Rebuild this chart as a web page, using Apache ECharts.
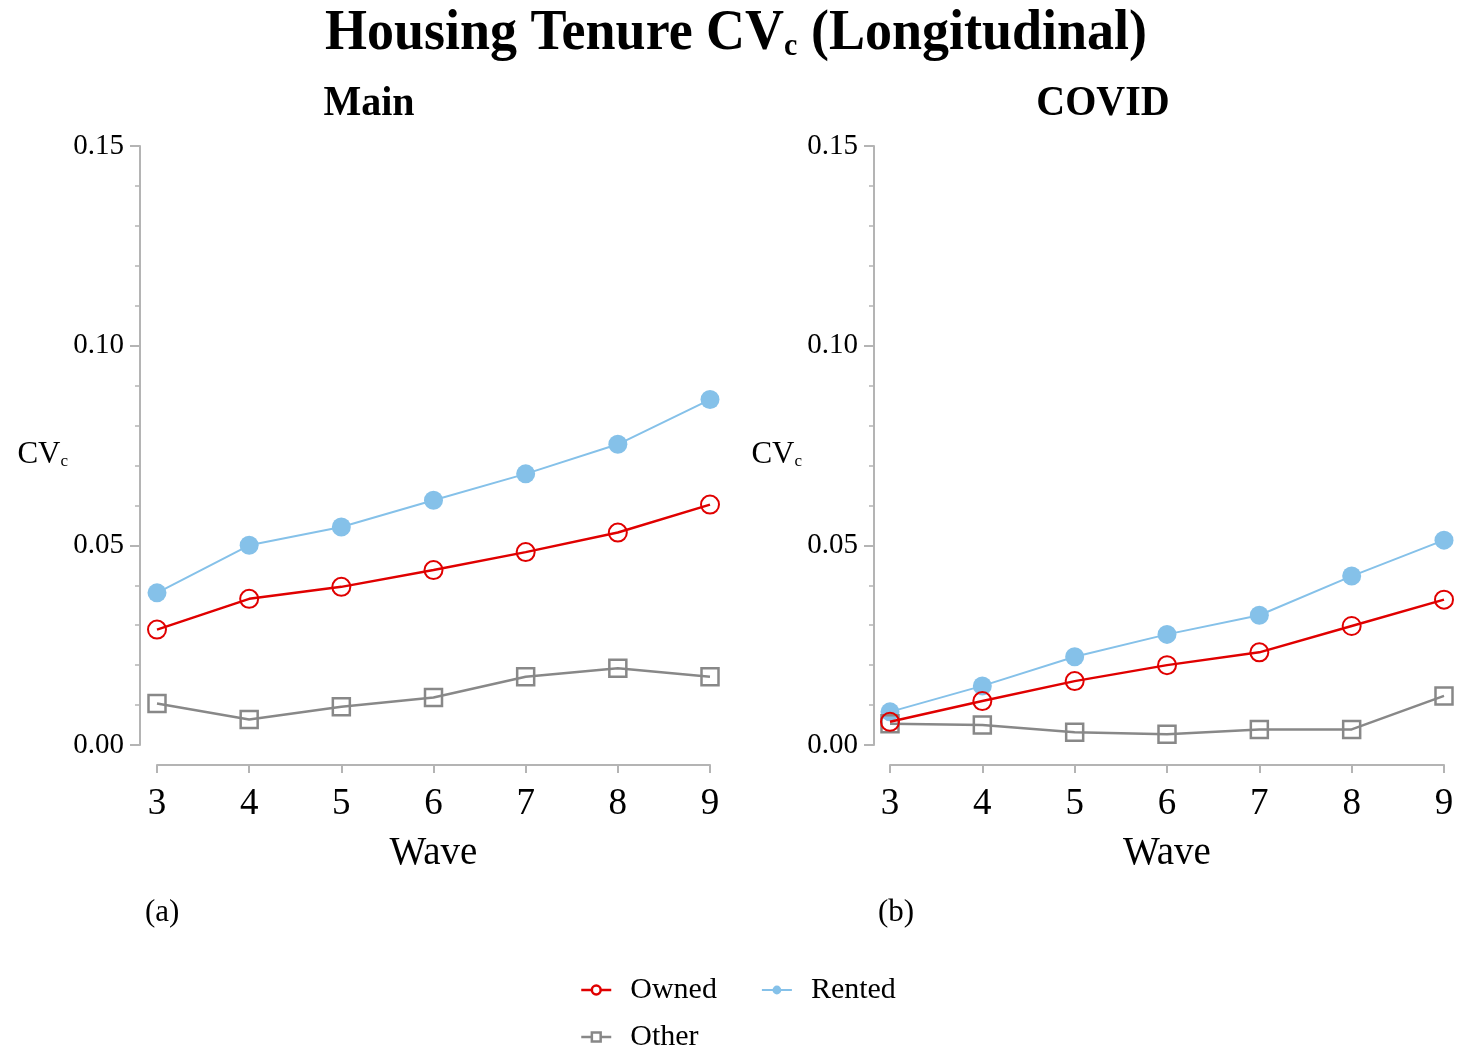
<!DOCTYPE html>
<html>
<head>
<meta charset="utf-8">
<title>Housing Tenure CVc (Longitudinal)</title>
<script src="https://cdn.jsdelivr.net/npm/echarts@6/dist/echarts.min.js"></script>
<style>
  html, body { margin: 0; padding: 0; background: #ffffff; }
  #chart { width: 1460px; height: 1051px; }
</style>
</head>
<body>
<div id="chart"></div>
<script>
// Survey waves on the x axis
const waves = [3, 4, 5, 6, 7, 8, 9];

// Coefficient of variation (CVc) by housing tenure, Main sample
const mainOwned  = [0.0289, 0.0366, 0.0396, 0.0438, 0.0483, 0.0532, 0.0602];
const mainRented = [0.0381, 0.0500, 0.0546, 0.0613, 0.0679, 0.0753, 0.0865];
const mainOther  = [0.0104, 0.0064, 0.0096, 0.0119, 0.0171, 0.0192, 0.0171];

// Coefficient of variation (CVc) by housing tenure, COVID sample
const covidOwned  = [0.0058, 0.0110, 0.0160, 0.0200, 0.0232, 0.0298, 0.0364];
const covidRented = [0.0083, 0.0148, 0.0221, 0.0277, 0.0325, 0.0423, 0.0513];
const covidOther  = [0.0053, 0.0050, 0.0032, 0.0027, 0.0039, 0.0039, 0.0123];

const yTicks = [0, 0.05, 0.10, 0.15];

const SERIF = "'Liberation Serif', 'Times New Roman', serif";
const RED = '#e00000';
const BLUE = '#85c1e9';
const GREY = '#888888';
const AXIS = '#b4b4b4';

const pair = (vals) => waves.map((w, i) => [w, vals[i]]);

function yAxisFor(gridIndex, offset) {
  return {
    type: 'value', gridIndex,
    min: yTicks[0], max: yTicks[yTicks.length - 1], interval: 0.05,
    offset,
    name: 'CV{sub|c}',
    nameLocation: 'middle', nameRotate: 0, nameGap: 72,
    nameTextStyle: {
      fontFamily: SERIF, fontSize: 31, color: '#000', padding: [18, 0, 0, 0],
      rich: { sub: { fontFamily: SERIF, fontSize: 17, color: '#000', verticalAlign: 'bottom', lineHeight: 17 } }
    },
    axisLine: { show: true, lineStyle: { color: AXIS, width: 2 } },
    axisTick: { show: true, length: 10, lineStyle: { color: AXIS, width: 2 } },
    minorTick: { show: true, splitNumber: 5, length: 5, lineStyle: { color: AXIS, width: 1.5 } },
    splitLine: { show: false },
    minorSplitLine: { show: false },
    axisLabel: {
      margin: 16, fontFamily: SERIF, fontSize: 29, color: '#000', padding: [8, 0, 0, 0],
      formatter: (v) => v.toFixed(2)
    }
  };
}

function xAxisFor(gridIndex) {
  return {
    type: 'value', gridIndex,
    min: 3, max: 9, interval: 1,
    offset: 20,
    name: 'Wave', nameLocation: 'middle', nameGap: 69,
    nameTextStyle: { fontFamily: SERIF, fontSize: 39, color: '#000' },
    axisLine: { show: true, onZero: false, lineStyle: { color: AXIS, width: 2 } },
    axisTick: { show: true, length: 8, lineStyle: { color: AXIS, width: 2 } },
    splitLine: { show: false },
    axisLabel: { margin: 21, fontFamily: SERIF, fontSize: 37, color: '#000' }
  };
}

function tenureSeries(idx, owned, rented, other) {
  return [
    {
      name: 'Rented', type: 'line', xAxisIndex: idx, yAxisIndex: idx,
      data: pair(rented), z: 2,
      symbol: 'circle', symbolSize: 19,
      lineStyle: { color: BLUE, width: 2 },
      itemStyle: { color: BLUE },
      emphasis: { disabled: true }
    },
    {
      name: 'Other', type: 'line', xAxisIndex: idx, yAxisIndex: idx,
      data: pair(other), z: 3,
      symbol: 'rect', symbolSize: 17,
      lineStyle: { color: GREY, width: 2.5 },
      itemStyle: { color: 'rgba(255,255,255,0)', borderColor: GREY, borderWidth: 2.5 },
      emphasis: { disabled: true }
    },
    {
      name: 'Owned', type: 'line', xAxisIndex: idx, yAxisIndex: idx,
      data: pair(owned), z: 4,
      symbol: 'circle', symbolSize: 18,
      lineStyle: { color: RED, width: 2.5 },
      itemStyle: { color: 'rgba(255,255,255,0)', borderColor: RED, borderWidth: 2 },
      emphasis: { disabled: true }
    }
  ];
}

const legendBase = {
  orient: 'horizontal', left: 580, padding: 0,
  itemWidth: 30, itemHeight: 11, itemGap: 44,
  textStyle: { fontFamily: SERIF, fontSize: 30, color: '#000', padding: [0, 0, 0, 14] },
  selectedMode: false
};

const legendItem = {
  Owned:  { name: 'Owned',  itemStyle: { color: '#ffffff', borderColor: RED, borderWidth: 2.5 }, lineStyle: { color: RED, width: 2.5 } },
  Rented: { name: 'Rented', itemStyle: { color: BLUE }, lineStyle: { color: BLUE, width: 2 } },
  Other:  { name: 'Other',  itemStyle: { color: '#ffffff', borderColor: GREY, borderWidth: 2.5 }, lineStyle: { color: GREY, width: 2.5 } }
};

const chart = echarts.init(document.getElementById('chart'), null, { renderer: 'canvas' });

chart.setOption({
  backgroundColor: '#ffffff',
  animation: false,
  grid: [
    { left: 157, right: 750, top: 146, bottom: 306 },
    { left: 890, right: 16, top: 146, bottom: 306 }
  ],
  xAxis: [xAxisFor(0), xAxisFor(1)],
  yAxis: [yAxisFor(0, 17), yAxisFor(1, 16)],
  legend: [
    Object.assign({}, legendBase, { top: 975, data: [legendItem.Owned, legendItem.Rented] }),
    Object.assign({}, legendBase, { top: 1022, data: [legendItem.Other] })
  ],
  series: [
    ...tenureSeries(0, mainOwned, mainRented, mainOther),
    ...tenureSeries(1, covidOwned, covidRented, covidOther)
  ],
  graphic: [
    {
      type: 'text', x: 736, y: 34, scaleY: 1.05,
      style: {
        text: 'Housing Tenure CV{sub|c} (Longitudinal)',
        fontFamily: SERIF, fontSize: 54, fontWeight: 'bold', fill: '#000',
        align: 'center', verticalAlign: 'middle',
        rich: { sub: { fontFamily: SERIF, fontSize: 30, fontWeight: 'bold', fill: '#000', verticalAlign: 'bottom', lineHeight: 30 } }
      }
    },
    {
      type: 'text', x: 369, y: 104, scaleY: 1.05,
      style: { text: 'Main', fontFamily: SERIF, fontSize: 40, fontWeight: 'bold', fill: '#000', align: 'center', verticalAlign: 'middle' }
    },
    {
      type: 'text', x: 1103, y: 104, scaleY: 1.05,
      style: { text: 'COVID', fontFamily: SERIF, fontSize: 40, fontWeight: 'bold', fill: '#000', align: 'center', verticalAlign: 'middle' }
    },
    {
      type: 'text', x: 145, y: 913,
      style: { text: '(a)', fontFamily: SERIF, fontSize: 31, fill: '#000', align: 'left', verticalAlign: 'middle' }
    },
    {
      type: 'text', x: 878, y: 913,
      style: { text: '(b)', fontFamily: SERIF, fontSize: 31, fill: '#000', align: 'left', verticalAlign: 'middle' }
    }
  ]
});
</script>
</body>
</html>
